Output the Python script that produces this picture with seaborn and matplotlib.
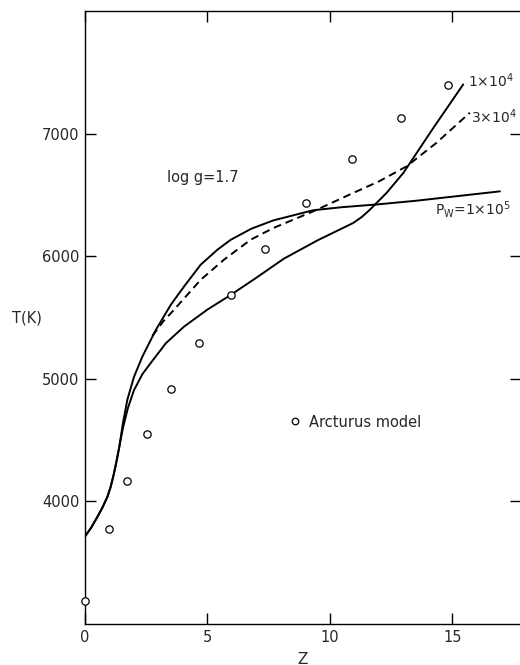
import numpy as np
import pandas as pd
import matplotlib
matplotlib.use("Agg")
import matplotlib.pyplot as plt
import seaborn as sns

# Arcturus model points (circles)
arct_z = [0.0, 0.98, 1.71, 2.53, 3.51, 4.65, 5.96, 7.35, 9.02, 10.9, 12.9, 14.8]
arct_t = [3190, 3771, 4163, 4548, 4916, 5292, 5684, 6060, 6436, 6796, 7131, 7400]

# common low-Z part shared by the solid curves
common_z = [0.0, 0.25, 0.5, 0.7, 0.91, 1.05, 1.18, 1.3, 1.4]
common_t = [3715, 3785, 3872, 3945, 4035, 4120, 4226, 4340, 4445]

# Pw = 1e5
pw5_z = [1.55, 1.73, 2.0, 2.34, 2.89, 3.5, 4.04, 4.72, 5.4, 5.95, 6.8, 7.69, 9.32, 10.5, 11.91, 13.5, 15.2, 16.94]
pw5_t = [4640, 4830, 5016, 5180, 5398, 5603, 5752, 5930, 6052, 6134, 6225, 6292, 6375, 6400, 6422, 6452, 6490, 6529]

# Pw = 3e4 (dashed, branches off the upper curve)
pw3_z = [2.75, 3.2, 3.63, 4.72, 5.67, 6.76, 7.69, 9.32, 10.95, 12.0, 13.13, 14.35, 15.71]
pw3_t = [5350, 5470, 5562, 5807, 5971, 6134, 6230, 6366, 6516, 6610, 6733, 6925, 7170]

# Pw = 1e4
pw4_z = [1.55, 1.75, 2.0, 2.35, 2.68, 3.3, 4.04, 5.0, 5.95, 7.0, 8.12, 9.5, 10.95, 11.3, 11.63, 12.31, 13.0, 14.2, 15.44]
pw4_t = [4600, 4760, 4908, 5040, 5128, 5290, 5425, 5565, 5684, 5825, 5980, 6130, 6271, 6320, 6379, 6516, 6680, 7040, 7401]

sns.set_style("ticks")
plt.rcParams['font.family'] = ['DejaVu Sans']

fig = plt.figure(figsize=(5.2, 6.65), dpi=100)
ax = fig.add_axes([85 / 520, 1 - 624 / 665, 436 / 520, 613 / 665])

lw = 1.4
df5 = pd.DataFrame({'Z': common_z + pw5_z, 'T': common_t + pw5_t})
df4 = pd.DataFrame({'Z': common_z + pw4_z, 'T': common_t + pw4_t})
df3 = pd.DataFrame({'Z': pw3_z, 'T': pw3_t})
sns.lineplot(data=df5, x='Z', y='T', sort=False, color='black', lw=lw, ax=ax)
sns.lineplot(data=df4, x='Z', y='T', sort=False, color='black', lw=lw, ax=ax)
sns.lineplot(data=df3, x='Z', y='T', sort=False, color='black', lw=lw, ax=ax,
             linestyle=(0, (4, 2.5)))

sns.scatterplot(x=arct_z, y=arct_t, marker='o', s=28, facecolor='white',
                edgecolor='black', linewidth=0.9, ax=ax, clip_on=False, zorder=5)

ax.set_xlim(0, 17.8)
ax.set_ylim(3000, 8000)
ax.set_xticks([0, 5, 10, 15])
ax.set_xticklabels(['0', '5', '10', '15'])
ax.set_yticks([4000, 5000, 6000, 7000])
ax.tick_params(direction='in', length=8, width=1, labelsize=10.5, color='black',
               top=True, right=True, pad=4)
for s in ax.spines.values():
    s.set_linewidth(1.0)
    s.set_color('black')
ax.spines['right'].set_visible(False)

ax.set_xlabel('Z', fontsize=11, labelpad=5)
ax.set_ylabel('')
fig.text(12 / 520, 1 - 318 / 665, 'T(K)', fontsize=10.5, va='center', ha='left')

ax.text(3.35, 6640, 'log g=1.7', fontsize=10.5, va='center')
ax.text(15.65, 7430, '1×10$^4$', fontsize=10, va='center')
ax.text(15.75, 7140, '3×10$^4$', fontsize=10, va='center')
ax.text(14.3, 6380, 'P$_\\mathrm{W}$=1×10$^5$', fontsize=10, va='center')
ax.scatter([8.57], [4654], marker='o', s=22, facecolor='white', edgecolor='black', linewidth=0.9)
ax.text(9.15, 4640, 'Arcturus model', fontsize=10.5, va='center')

fig.savefig('out.png', dpi=100)
